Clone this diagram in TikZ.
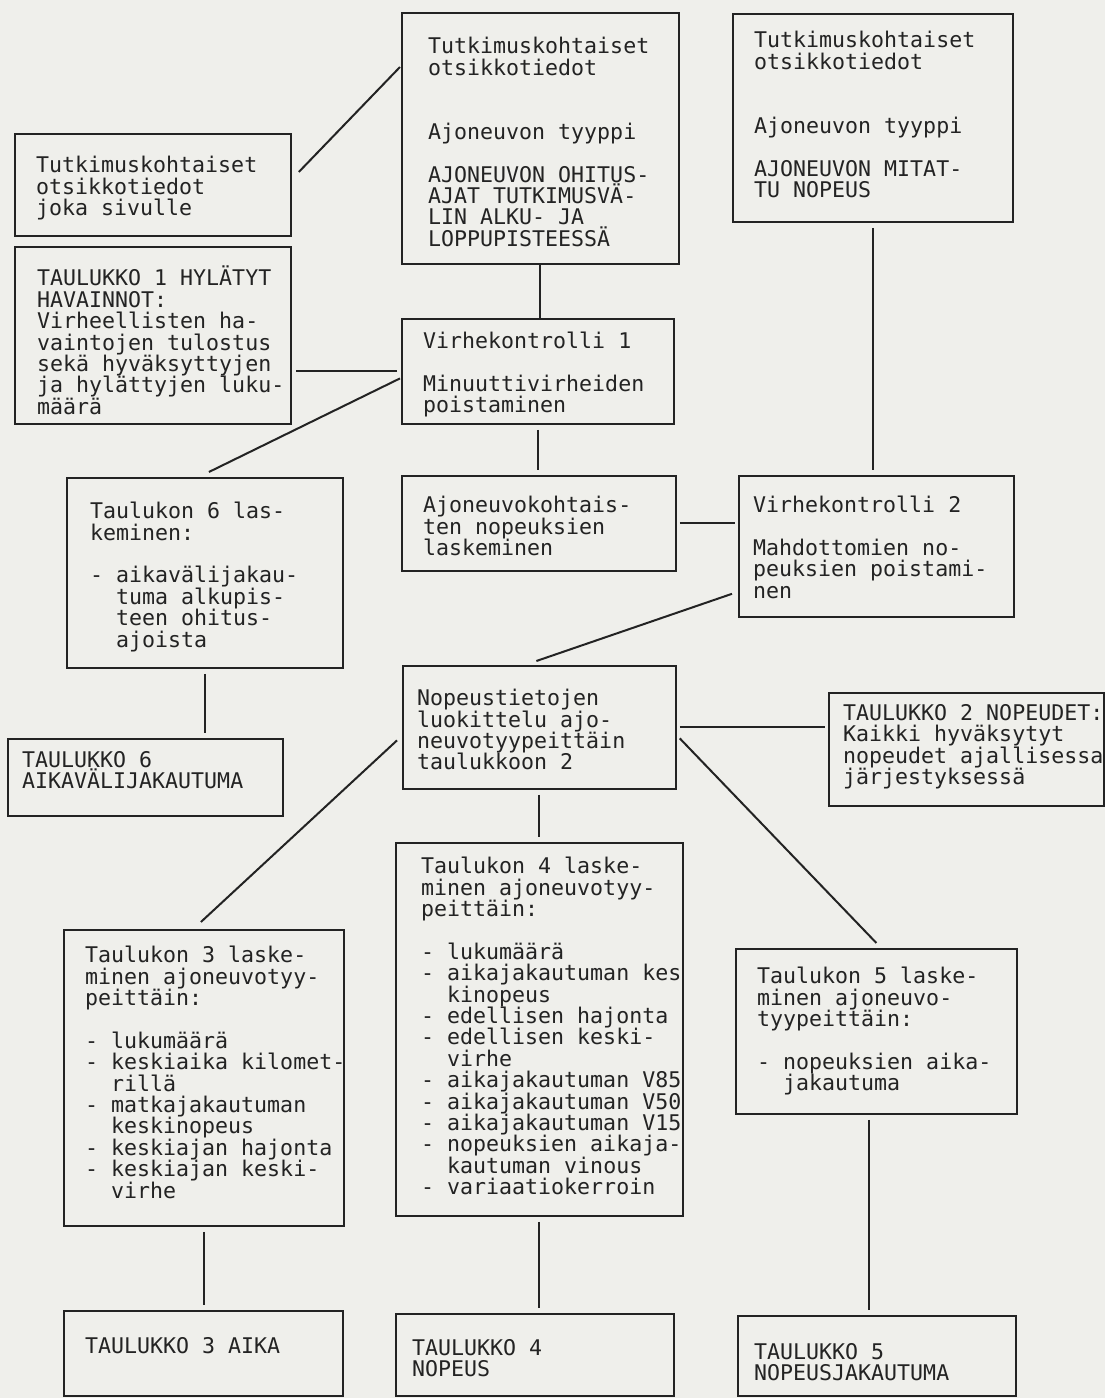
\documentclass[tikz,border=0pt]{standalone}
\usepackage{fontspec}
\newfontfamily\tmono{DejaVu Sans Mono}
\usetikzlibrary{positioning}
\definecolor{paper}{RGB}{239,239,235}
\definecolor{ink}{RGB}{35,35,35}
\tikzset{
	frame/.style={draw=ink, line width=1.8pt, inner sep=0pt, anchor=north west},
	txt/.style={inner sep=0pt, align=left, text=ink, font=\tmono\fontsize{21.6pt}{21.4pt}\selectfont},
	link/.style={draw=ink, line width=2pt},
	gap/.style={shorten <=#1, shorten >=#1},
}

\begin{document}
\begin{tikzpicture}[x=1pt, y=-1pt]
	\fill[paper] (0,0) rectangle (1105,1398);
	\useasboundingbox (0,0) rectangle (1105,1398);

	% boxes
	\node[frame, minimum width=276pt, minimum height=102pt] (hdr1) at (14,133) {};
	\node[frame, minimum width=276pt, minimum height=177pt] (tau1) at (14,246) {};
	\node[frame, minimum width=277pt, minimum height=251pt] (hdr2) at (401,12) {};
	\node[frame, minimum width=280pt, minimum height=208pt] (hdr3) at (732,13) {};
	\node[frame, minimum width=272pt, minimum height=105pt] (vk1) at (401,318) {};
	\node[frame, minimum width=274pt, minimum height=95pt] (nop) at (401,475) {};
	\node[frame, minimum width=275pt, minimum height=141pt] (vk2) at (738,475) {};
	\node[frame, minimum width=276pt, minimum height=190pt] (las6) at (66,477) {};
	\node[frame, minimum width=275pt, minimum height=77pt] (tau6) at (7,738) {};
	\node[frame, minimum width=273pt, minimum height=123pt] (luok) at (402,665) {};
	\node[frame, minimum width=275pt, minimum height=113pt] (tau2) at (828,692) {};
	\node[frame, minimum width=280pt, minimum height=296pt] (las3) at (63,929) {};
	\node[frame, minimum width=287pt, minimum height=373pt] (las4) at (395,842) {};
	\node[frame, minimum width=281pt, minimum height=165pt] (las5) at (735,948) {};
	\node[frame, minimum width=279pt, minimum height=85pt] (tau3) at (63,1310) {};
	\node[frame, minimum width=278pt, minimum height=82pt] (tau4) at (395,1313) {};
	\node[frame, minimum width=278pt, minimum height=80pt] (tau5) at (737,1315) {};

	% texts
	\node[txt, below right=23pt and 22pt of hdr1.north west] (hdr1t) {Tutkimuskohtaiset\\ otsikkotiedot\\ joka sivulle};
	\node[txt, below right=20pt and 23pt of tau1.north west] (tau1t) {TAULUKKO 1 HYLÄTYT\\ HAVAINNOT:\\ Virheellisten ha-\\ vaintojen tulostus\\ sekä hyväksyttyjen\\ ja hylättyjen luku-\\ määrä};
	\node[txt, below right=25pt and 27pt of hdr2.north west] (hdr2t) {Tutkimuskohtaiset\\ otsikkotiedot\\[42.8pt] Ajoneuvon tyyppi\\[21.4pt] AJONEUVON OHITUS-\\ AJAT TUTKIMUSVÄ-\\ LIN ALKU- JA\\ LOPPUPISTEESSÄ};
	\node[txt, below right=18pt and 22pt of hdr3.north west] (hdr3t) {Tutkimuskohtaiset\\ otsikkotiedot\\[42.8pt] Ajoneuvon tyyppi\\[21.4pt] AJONEUVON MITAT-\\ TU NOPEUS};
	\node[txt, below right=14pt and 22pt of vk1.north west] (vk1t) {Virhekontrolli 1\\[21.4pt] Minuuttivirheiden\\ poistaminen};
	\node[txt, below right=21pt and 22pt of nop.north west] (nopt) {Ajoneuvokohtais-\\ ten nopeuksien\\ laskeminen};
	\node[txt, below right=21pt and 15pt of vk2.north west] (vk2t) {Virhekontrolli 2\\[21.4pt] Mahdottomien no-\\ peuksien poistami-\\ nen};
	\node[txt, below right=25pt and 24pt of las6.north west] (las6t) {Taulukon 6 las-\\ keminen:\\[21.4pt] - aikavälijakau-\\ \phantom{- }tuma alkupis-\\ \phantom{- }teen ohitus-\\ \phantom{- }ajoista};
	\node[txt, below right=13pt and 15pt of tau6.north west] (tau6t) {TAULUKKO 6\\ AIKAVÄLIJAKAUTUMA};
	\node[txt, below right=24pt and 15pt of luok.north west] (luokt) {Nopeustietojen\\ luokittelu ajo-\\ neuvotyypeittäin\\ taulukkoon 2};
	\node[txt, below right=12pt and 15pt of tau2.north west] (tau2t) {TAULUKKO 2 NOPEUDET:\\ Kaikki hyväksytyt\\ nopeudet ajallisessa\\ järjestyksessä};
	\node[txt, below right=17pt and 22pt of las3.north west] (las3t) {Taulukon 3 laske-\\ minen ajoneuvotyy-\\ peittäin:\\[21.4pt] - lukumäärä\\ - keskiaika kilomet-\\ \phantom{- }rillä\\ - matkajakautuman\\ \phantom{- }keskinopeus\\ - keskiajan hajonta\\ - keskiajan keski-\\ \phantom{- }virhe};
	\node[txt, below right=15pt and 26pt of las4.north west] (las4t) {Taulukon 4 laske-\\ minen ajoneuvotyy-\\ peittäin:\\[21.4pt] - lukumäärä\\ - aikajakautuman kes\\ \phantom{- }kinopeus\\ - edellisen hajonta\\ - edellisen keski-\\ \phantom{- }virhe\\ - aikajakautuman V85\\ - aikajakautuman V50\\ - aikajakautuman V15\\ - nopeuksien aikaja-\\ \phantom{- }kautuman vinous\\ - variaatiokerroin};
	\node[txt, below right=19pt and 22pt of las5.north west] (las5t) {Taulukon 5 laske-\\ minen ajoneuvo-\\ tyypeittäin:\\[21.4pt] - nopeuksien aika-\\ \phantom{- }jakautuma};
	\node[txt, below right=27pt and 22pt of tau3.north west] (tau3t) {TAULUKKO 3 AIKA};
	\node[txt, below right=26pt and 17pt of tau4.north west] (tau4t) {TAULUKKO 4\\ NOPEUS};
	\node[txt, below right=28pt and 17pt of tau5.north west] (tau5t) {TAULUKKO 5\\ NOPEUSJAKAUTUMA};

	% connectors
	\draw[link] ([shift={(7,39)}]hdr1.north east) -- ([shift={(-1,55)}]hdr2.north west);
	\draw[link] (hdr2.south) -- (hdr2.south |- vk1.north);
	\draw[link, gap=4pt] (vk1.west) -- (vk1.west -| tau1.east);
	\draw[link] ([shift={(-1,7)}]vk1.west) -- ([shift={(4,-5)}]las6.north);
	\draw[link, gap=5pt] (vk1.south) -- (vk1.south |- nop.north);
	\draw[link, gap=3pt] (nop.east) -- (nop.east -| vk2.west);
	\draw[link, gap=5pt] (hdr3.south) -- (hdr3.south |- vk2.north);
	\draw[link] ([shift={(-6,-24)}]vk2.south west) -- ([shift={(-3,-4)}]luok.north);
	\draw[link, gap=5pt] (las6.south) -- (las6.south |- tau6.north);
	\draw[link, gap=3pt] (luok.east) -- (luok.east -| tau2.west);
	\draw[link] ([shift={(-5,13)}]luok.west) -- ([shift={(-3,-7)}]las3.north);
	\draw[link] ([shift={(3,11)}]luok.east) -- ([shift={(0,-5)}]las5.north);
	\draw[link, gap=5pt] (luok.south) -- (luok.south |- las4.north);
	\draw[link, gap=5pt] (las3.south) -- (las3.south |- tau3.north);
	\draw[link, gap=5pt] (las4.south) -- (las4.south |- tau4.north);
	\coordinate (l5) at ([xshift=-7pt]las5.south);
	\draw[link, gap=5pt] (l5) -- (l5 |- tau5.north);
\end{tikzpicture}
\end{document}
